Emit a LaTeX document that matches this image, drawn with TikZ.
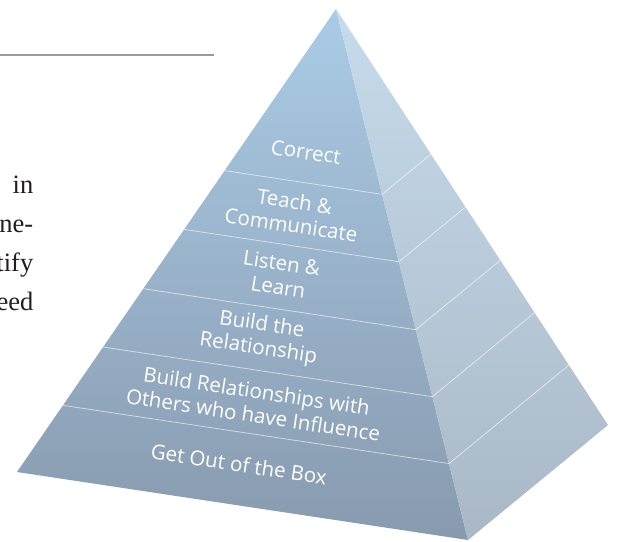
\documentclass[tikz,border=0pt]{standalone}
\usepackage{fontspec}
\newfontfamily\labelfont{Open Sans}
\newfontfamily\bodyfont{Liberation Serif}
\usetikzlibrary{calc}
\definecolor{leftTop}{HTML}{AACBE6}
\definecolor{leftBot}{HTML}{889AAE}
\definecolor{rightTop}{HTML}{C6DBEC}
\definecolor{rightBot}{HTML}{AAB8C6}
\definecolor{ruleGray}{HTML}{9A9A9A}
\definecolor{bodyText}{HTML}{231F20}
\begin{document}
\begin{tikzpicture}[x=1pt,y=-1pt,
  layer/.style={font=\labelfont\fontsize{20.5}{24}\selectfont, text=white, align=center, rotate=-8.5, inner sep=0pt},
  body/.style={font=\bodyfont\fontsize{26.5}{39}\selectfont, anchor=base east, inner sep=0pt, text=bodyText},
  divider/.style={draw=white, draw opacity=0.65, line width=0.7pt}]
\useasboundingbox (0,0) rectangle (617,541);
\clip (0,0) rectangle (617,541);

% page fragments
\draw[ruleGray, line width=1.1pt] (0,55) -- (214,55);
\node[body] (t1) at (33.5,193) {in};
\node[body] (t2) at (33.5,232) {ne-};
\node[body] (t3) at (33.5,271) {tify};
\node[body] (t4) at (33.5,310) {eed};

% pyramid corners
\coordinate (A) at (336,9);
\coordinate (L) at (17,472);
\coordinate (F) at (468,540);
\coordinate (R) at (608,425);

\shade[top color=leftTop, bottom color=leftBot] (A) -- (L) -- (F) -- cycle;
\shade[top color=rightTop, bottom color=rightBot] (A) -- (F) -- (R) -- cycle;

\foreach \t [count=\i] in {0.349,0.476,0.604,0.730,0.856}{
  \coordinate (dl\i) at ($(A)!\t!(L)$);
  \coordinate (df\i) at ($(A)!\t!(F)$);
  \coordinate (dr\i) at ($(A)!\t!(R)$);
  \draw[divider] (dl\i) -- (df\i) -- (dr\i);
}

\node[layer] (correct) at (306,152) {Correct};
\node[layer] (teach) at (293,213) {Teach \&\\Communicate};
\node[layer] (listen) at (280,275) {Listen \&\\Learn};
\node[layer] (build) at (260,337) {Build the\\Relationship};
\node[layer] (others) at (255,403) {Build Relationships with\\Others who have Influence};
\node[layer] (box) at (239,464) {Get Out of the Box};
\end{tikzpicture}
\end{document}
